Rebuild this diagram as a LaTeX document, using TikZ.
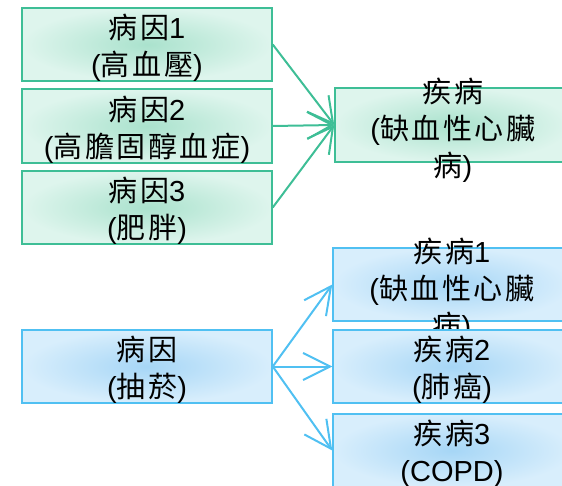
\documentclass[tikz,border=0pt]{standalone}
\usepackage{fontspec}
\setmainfont{Liberation Sans}
\newfontfamily\cjk[LetterSpace=9]{Noto Sans CJK TC}
\usetikzlibrary{arrows.meta}
\definecolor{gline}{RGB}{62,190,150}
\definecolor{gin}{RGB}{170,226,205}
\definecolor{gout}{RGB}{222,245,237}
\definecolor{bline}{RGB}{80,192,242}
\definecolor{bin}{RGB}{166,214,246}
\definecolor{bout}{RGB}{216,238,252}
\begin{document}
\begin{tikzpicture}[x=1pt,y=-1pt,
  gbox/.style={draw=gline, line width=1.5pt, inner color=gin, outer color=gout, inner sep=0pt},
  bbox/.style={draw=bline, line width=1.5pt, inner color=bin, outer color=bout, inner sep=0pt},
  lbl/.style={font=\fontsize{29}{37}\selectfont, align=center, inner sep=0pt},
  garr/.style={draw=gline, line width=2pt, -{Straight Barb[length=25pt,width=27pt,line width=2pt]}},
  barr/.style={draw=bline, line width=2pt, -{Straight Barb[length=27pt,width=27pt,line width=2pt]}}
]
\useasboundingbox (0,0) rectangle (562,486);
% green part
\node[gbox, minimum width=250pt, minimum height=73pt] (g1) at (147,44.5) {};
\node[lbl] (g1t) at (147,48) {{\cjk 病因}1\\({\cjk 高血壓})};
\node[gbox, minimum width=250pt, minimum height=74pt] (g2) at (147,126) {};
\node[lbl] (g2t) at (147,129.5) {{\cjk 病因}2\\({\cjk 高膽固醇血症})};
\node[gbox, minimum width=250pt, minimum height=73pt] (g3) at (147,207.5) {};
\node[lbl] (g3t) at (147,211) {{\cjk 病因}3\\({\cjk 肥胖})};
\node[gbox, minimum width=236pt, minimum height=74pt] (gd) at (453,125) {};
\node[lbl] (gdt) at (453,130) {{\cjk 疾病}\\({\cjk 缺血性心臟}\\{\cjk 病})};
\draw[garr] (g1.east) -- (gd.west);
\draw[garr] (g2.east) -- (gd.west);
\draw[garr] (g3.east) -- (gd.west);
% blue part
\node[bbox, minimum width=250pt, minimum height=73pt] (bc) at (147,366.5) {};
\node[lbl] (bct) at (147,370) {{\cjk 病因}\\({\cjk 抽菸})};
\node[bbox, minimum width=238pt, minimum height=73pt] (bd1) at (452,284.5) {};
\node[lbl] (bd1t) at (452,290) {{\cjk 疾病}1\\({\cjk 缺血性心臟}\\{\cjk 病})};
\node[bbox, minimum width=238pt, minimum height=73pt] (bd2) at (452,366.5) {};
\node[lbl] (bd2t) at (452,370) {{\cjk 疾病}2\\({\cjk 肺癌})};
\node[bbox, minimum width=238pt, minimum height=73pt] (bd3) at (452,450.5) {};
\node[lbl] (bd3t) at (452,454) {{\cjk 疾病}3\\(COPD)};
\draw[barr] (bc.east) -- (bd1.west);
\draw[barr] (bc.east) -- (bd2.west);
\draw[barr] (bc.east) -- (bd3.west);
\end{tikzpicture}
\end{document}
